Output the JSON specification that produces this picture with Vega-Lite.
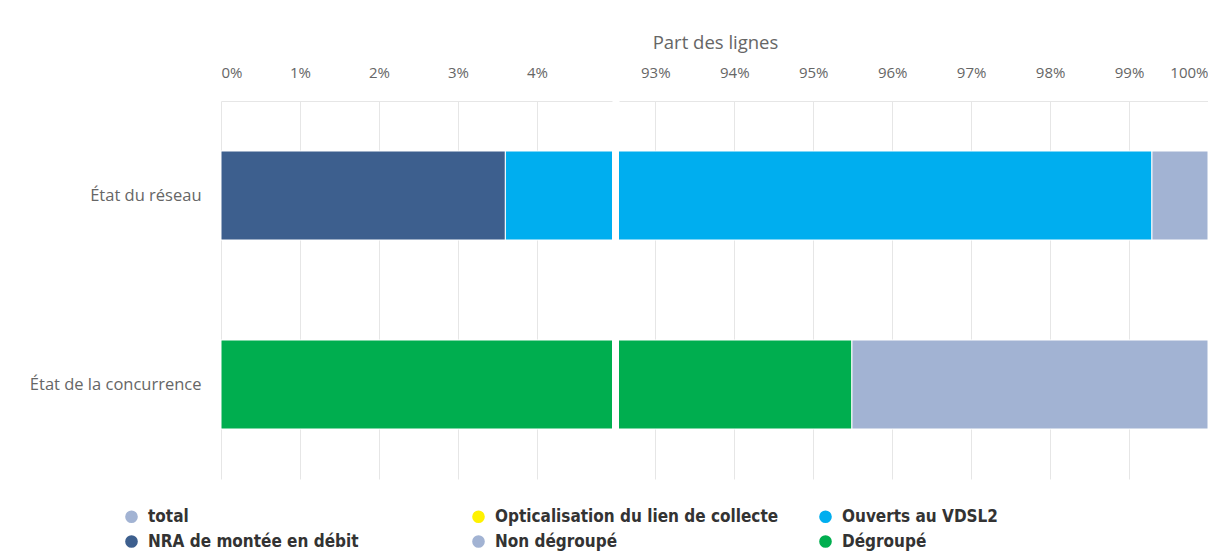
{
  "$schema": "https://vega.github.io/schema/vega-lite/v6.json",
  "background": "white",
  "padding": {"left": 21, "top": 33, "right": 0, "bottom": 5},
  "bounds": "flush",
  "spacing": 7,
  "datasets": {
    "bars": [
      {"cat": "État du réseau", "serie": "NRA de montée en débit", "val": 3.6, "ord": 1},
      {"cat": "État du réseau", "serie": "Ouverts au VDSL2", "val": 95.69, "ord": 2},
      {"cat": "État du réseau", "serie": "total", "val": 0.71, "ord": 3},
      {"cat": "État de la concurrence", "serie": "Dégroupé", "val": 95.49, "ord": 1},
      {"cat": "État de la concurrence", "serie": "Non dégroupé", "val": 4.51, "ord": 2}
    ]
  },
  "hconcat": [
    {
      "width": 391,
      "height": 378,
      "data": {"name": "bars"},
      "mark": {"type": "bar", "size": 89, "clip": true, "stroke": "white", "strokeWidth": 1},
      "encoding": {
        "y": {
          "field": "cat", "type": "nominal",
          "sort": ["État du réseau", "État de la concurrence"],
          "scale": {"paddingInner": 0, "paddingOuter": 0},
          "axis": {"title": null, "ticks": false, "domain": false, "labelPadding": 20, "minExtent": 200, "maxExtent": 200, "labelFontSize": 16.5, "labelColor": "#666666", "labelFont": "Open Sans", "labelLimit": 300}
        },
        "x": {
          "field": "val", "type": "quantitative", "stack": "zero",
          "scale": {"domain": [0, 4.95], "nice": false, "zero": false},
          "axis": {
            "orient": "top", "values": [0, 1, 2, 3, 4], "labelExpr": "datum.value + '%'",
            "title": "Part des lignes", "titleX": 494, "titleFontSize": 18.5, "titleFontWeight": "normal", "titleColor": "#666666", "titleFont": "Open Sans", "titlePadding": 13,
            "ticks": false, "labelPadding": 21, "labelFontSize": 15, "labelColor": "#666666", "labelFont": "Open Sans",
            "grid": true, "gridColor": "#e6e6e6", "domainColor": "#e6e6e6"
          }
        },
        "color": {
          "field": "serie", "type": "nominal",
          "scale": {
            "domain": ["total", "Opticalisation du lien de collecte", "Ouverts au VDSL2", "NRA de montée en débit", "Non dégroupé", "Dégroupé"],
            "range": ["#a2b3d3", "#fff200", "#00aeef", "#3d5f8e", "#a2b3d3", "#00ae4f"]
          },
          "legend": {
            "title": null, "orient": "none", "legendX": -98, "legendY": 407, "columns": 3, "direction": "horizontal",
            "gridAlign": "all", "columnPadding": 38, "rowPadding": 7,
            "symbolType": "circle", "symbolSize": 160, "symbolStrokeWidth": 0, "symbolOpacity": 1,
            "labelFont": "DejaVu Sans Condensed", "labelFontSize": 17, "labelFontWeight": "bold", "labelColor": "#333333", "labelLimit": 400, "labelOffset": 8
          }
        },
        "order": {"field": "ord", "type": "quantitative"}
      }
    },
    {
      "width": 589,
      "height": 378,
      "data": {"name": "bars"},
      "mark": {"type": "bar", "size": 89, "clip": true, "stroke": "white", "strokeWidth": 1},
      "encoding": {
        "y": {
          "field": "cat", "type": "nominal",
          "sort": ["État du réseau", "État de la concurrence"],
          "scale": {"paddingInner": 0, "paddingOuter": 0},
          "axis": null
        },
        "x": {
          "field": "val", "type": "quantitative", "stack": "zero",
          "scale": {"domain": [92.54, 100], "nice": false, "zero": false},
          "axis": {
            "orient": "top", "values": [93, 94, 95, 96, 97, 98, 99, 100], "labelExpr": "datum.value + '%'",
            "title": null, "labelFlush": true,
            "ticks": false, "labelPadding": 21, "labelFontSize": 15, "labelColor": "#666666", "labelFont": "Open Sans",
            "grid": true, "gridColor": "#e6e6e6", "domainColor": "#e6e6e6"
          }
        },
        "color": {"field": "serie", "type": "nominal"},
        "order": {"field": "ord", "type": "quantitative"}
      }
    }
  ],
  "config": {"view": {"stroke": null}}
}
